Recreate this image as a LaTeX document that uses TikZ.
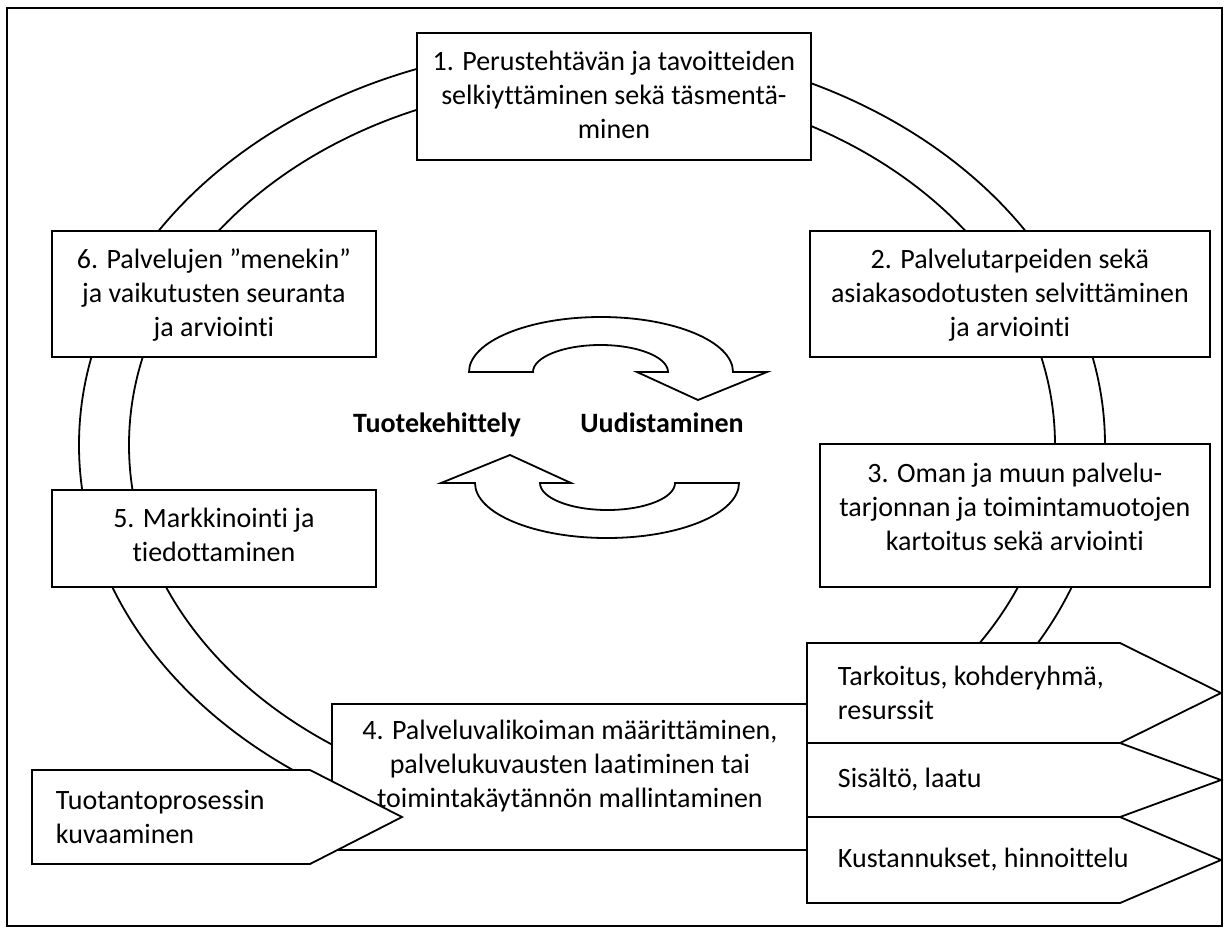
\documentclass[tikz,border=0pt]{standalone}
\usepackage{fontspec}
\setmainfont{Carlito}[Ligatures=NoCommon]
\begin{document}
\begin{tikzpicture}[x=0.5pt,y=-0.5pt,line width=0.9pt,line join=miter]
\tikzset{
  box/.style={draw,fill=white,inner sep=0pt,anchor=north west},
  lbl/.style={anchor=north,align=center,inner sep=0pt,font=\fontsize{14}{17}\selectfont},
  side/.style={anchor=west,align=left,inner sep=0pt,font=\fontsize{14}{17}\selectfont},
  big/.style={anchor=base,inner sep=0pt,font=\fontsize{14}{17}\selectfont\bfseries},
  blockshape/.style={draw,fill=white},
}
\useasboundingbox (0,0) rectangle (1226,932);
\fill[white] (0,0) rectangle (1226,932);
% outer frame
\node[draw,line width=1.1pt,inner sep=0pt,minimum width=607.5pt,minimum height=459pt,anchor=north west] (frame) at (6,7) {};
% ring behind the boxes
\draw (592,445) ellipse [x radius=513, y radius=400];
\draw (592,445) ellipse [x radius=463, y radius=362];
% boxes
\node[box,minimum width=197pt,minimum height=63.5pt] (b1) at (416,32) {};
\node[box,minimum width=162pt,minimum height=63pt] (b6) at (51,230) {};
\node[box,minimum width=200pt,minimum height=63pt] (b2) at (809,230) {};
\node[box,minimum width=195pt,minimum height=71.5pt] (b3) at (819,443) {};
\node[box,minimum width=162pt,minimum height=48.5pt] (b5) at (51,489) {};
\node[box,minimum width=238pt,minimum height=73pt] (b4) at (331,703) {};
% labels of boxes
\node[lbl] (t1) at ([yshift=-9pt]b1.north) {1. Perustehtävän ja tavoitteiden\\selkiyttäminen sekä täsmentä-\\minen};
\node[lbl] (t6) at ([yshift=-9pt]b6.north) {6. Palvelujen ”menekin”\\ja vaikutusten seuranta\\ja arviointi};
\node[lbl] (t2) at ([yshift=-9pt]b2.north) {2. Palvelutarpeiden sekä\\asiakasodotusten selvittäminen\\ja arviointi};
\node[lbl] (t3) at ([yshift=-9.5pt]b3.north) {3. Oman ja muun palvelu-\\tarjonnan ja toimintamuotojen\\kartoitus sekä arviointi};
\node[lbl] (t5) at ([yshift=-9pt]b5.north) {5. Markkinointi ja\\tiedottaminen};
\node[lbl] (t4) at ([yshift=-8pt]b4.north) {4. Palveluvalikoiman määrittäminen,\\palvelukuvausten laatiminen tai\\toimintakäytännön mallintaminen};
% left pointer
\draw[blockshape] (32,770) -- (310,770) -- (402,817) -- (310,864) -- (32,864) -- cycle;
\node[side] (tp) at (55,817) {Tuotantoprosessin\\kuvaaminen};
% right pointers
\draw[blockshape] (807,643) -- (1120,643) -- (1221,693) -- (1120,743) -- (807,743) -- cycle;
\draw[blockshape] (807,743) -- (1120,743) -- (1221,780) -- (1120,817) -- (807,817) -- cycle;
\draw[blockshape] (807,817) -- (1120,817) -- (1221,860) -- (1120,903) -- (807,903) -- cycle;
\node[side] (r1) at (837,693) {Tarkoitus, kohderyhmä,\\resurssit};
\node[side] (r2) at (837,780) {Sisältö, laatu};
\node[side] (r3) at (837,860) {Kustannukset, hinnoittelu};
% central curved arrows
\draw[blockshape] (469,372) arc[start angle=180,end angle=360,x radius=132,y radius=55]
  -- (767,372) -- (698,400) -- (637,372) -- (668,372)
  arc[start angle=0,end angle=-180,x radius=67.5,y radius=27] -- cycle;
\draw[blockshape,rotate around={180:(604,427.5)}] (469,372) arc[start angle=180,end angle=360,x radius=132,y radius=55]
  -- (767,372) -- (698,400) -- (637,372) -- (668,372)
  arc[start angle=0,end angle=-180,x radius=67.5,y radius=27] -- cycle;
\node[big] (tk) at (437,432) {Tuotekehittely};
\node[big] (ud) at (662,432) {Uudistaminen};
\end{tikzpicture}
\end{document}
